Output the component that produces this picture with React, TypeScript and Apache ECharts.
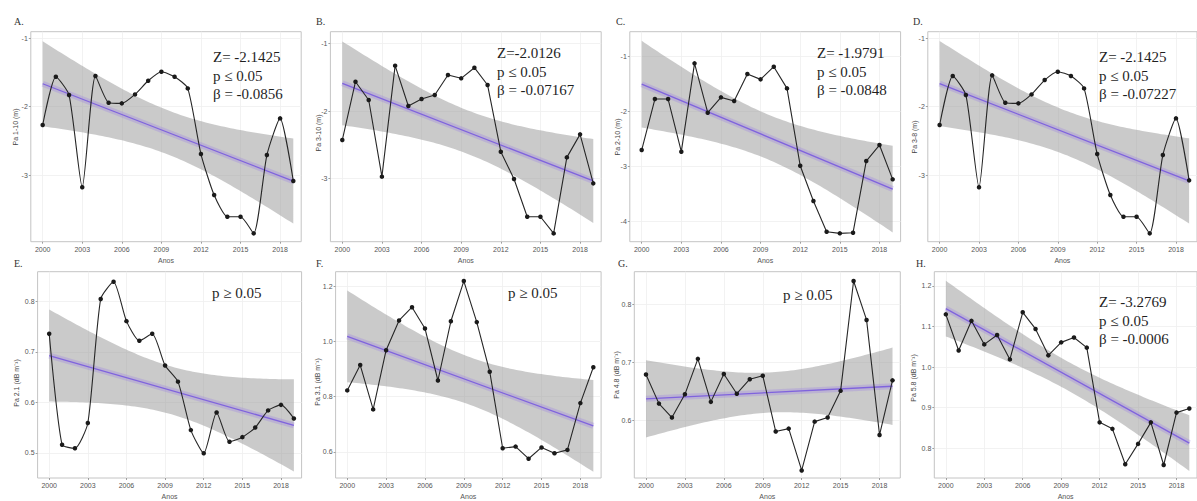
import React, { useEffect, useRef } from "react";
import * as echarts from "echarts";

// Years of the series (shared by all panels)
const years = [2000, 2001, 2002, 2003, 2004, 2005, 2006, 2007, 2008, 2009, 2010, 2011, 2012, 2013, 2014, 2015, 2016, 2017, 2018, 2019];
const yearTicks = [2000, 2003, 2006, 2009, 2012, 2015, 2018];

// Annual values per panel
const valuesA = [-2.268, -1.561, -1.829, -3.18, -1.551, -1.941, -1.951, -1.82, -1.62, -1.488, -1.561, -1.732, -2.693, -3.293, -3.61, -3.61, -3.854, -2.707, -2.171, -3.088];
const valuesB = [-2.429, -1.567, -1.837, -2.97, -1.33, -1.926, -1.823, -1.764, -1.468, -1.517, -1.36, -1.616, -2.601, -3.005, -3.562, -3.562, -3.808, -2.685, -2.345, -3.069];
const valuesC = [-2.697, -1.77, -1.77, -2.727, -1.121, -2.018, -1.739, -1.806, -1.315, -1.412, -1.182, -1.576, -2.982, -3.624, -4.182, -4.212, -4.2, -2.897, -2.606, -3.23];
const valuesD = [-2.268, -1.551, -1.829, -3.18, -1.541, -1.941, -1.951, -1.82, -1.61, -1.488, -1.551, -1.732, -2.693, -3.293, -3.61, -3.61, -3.854, -2.707, -2.171, -3.078];
const valuesE = [0.736, 0.516, 0.509, 0.559, 0.805, 0.839, 0.761, 0.722, 0.736, 0.673, 0.641, 0.545, 0.499, 0.58, 0.522, 0.531, 0.55, 0.584, 0.595, 0.568];
const valuesF = [0.823, 0.915, 0.754, 0.969, 1.077, 1.125, 1.048, 0.859, 1.074, 1.22, 1.071, 0.891, 0.613, 0.619, 0.575, 0.616, 0.595, 0.607, 0.777, 0.907];
const valuesG = [0.679, 0.629, 0.605, 0.645, 0.706, 0.632, 0.68, 0.646, 0.671, 0.677, 0.581, 0.586, 0.514, 0.598, 0.605, 0.651, 0.84, 0.773, 0.575, 0.669];
const valuesH = [1.13, 1.041, 1.114, 1.056, 1.079, 1.019, 1.135, 1.094, 1.029, 1.061, 1.073, 1.048, 0.864, 0.848, 0.761, 0.811, 0.864, 0.759, 0.888, 0.898];

// Y tick labels
const ticksA = [-3, -2, -1];
const ticksB = [-3, -2, -1];
const ticksC = [-4, -3, -2, -1];
const ticksD = [-3, -2, -1];
const ticksE = [0.5, 0.6, 0.7, 0.8];
const ticksF = [0.6, 0.8, 1.0, 1.2];
const ticksG = [0.5, 0.6, 0.7, 0.8];
const ticksH = [0.8, 0.9, 1.0, 1.1, 1.2];

// Trend test annotations
const statsA = ["Z= -2.1425", "p ≤ 0.05", "β = -0.0856"];
const statsB = ["Z=-2.0126", "p ≤ 0.05", "β = -0.07167"];
const statsC = ["Z= -1.9791", "p ≤ 0.05", "β = -0.0848"];
const statsD = ["Z= -2.1425", "p ≤ 0.05", "β = -0.07227"];
const statsE = ["p ≥ 0.05"];
const statsF = ["p ≥ 0.05"];
const statsG = ["p ≥ 0.05"];
const statsH = ["Z= -3.2769", "p ≤ 0.05", "β = -0.0006"];

const letters = ["A.", "B.", "C.", "D.", "E.", "F.", "G.", "H."];
const yTitles = [
  "Pa 1-10 (m)",
  "Pa 3-10 (m)",
  "Pa 2-10 (m)",
  "Pa 3-8 (m)",
  "Pa 2.1 (dB m⁻¹)",
  "Pa 3.1 (dB m⁻¹)",
  "Pa 4.8 (dB m⁻¹)",
  "Pa 5.8 (dB m⁻¹)",
];

// Panel geometry (pixels) and value ranges
const X_MIN = 1999.1;
const X_MAX = 2019.6;
const layouts = [
  { left: 30.8, top: 31.7, width: 270.4, height: 210, yMin: -3.976, yMax: -0.902, smooth: 0.2, letter: [14, 21], stats: [213, 57], title: [15, 127] },
  { left: 330.4, top: 31.7, width: 270.8, height: 210, yMin: -3.931, yMax: -0.828, smooth: 0, letter: [316, 21], stats: [497, 53], title: [318, 133] },
  { left: 629.8, top: 31.7, width: 270.8, height: 210, yMin: -4.364, yMax: -0.545, smooth: 0, letter: [616, 21], stats: [817, 53], title: [617, 137] },
  { left: 927.8, top: 31.7, width: 270.4, height: 210, yMin: -3.976, yMax: -0.902, smooth: 0.2, letter: [913, 21], stats: [1099, 57], title: [914, 137] },
  { left: 37.6, top: 271.7, width: 264, height: 208.3, yMin: 0.45, yMax: 0.859, smooth: 0.2, letter: [14, 263], stats: [212, 293], title: [16, 383] },
  { left: 335.6, top: 271.7, width: 265.5, height: 208.3, yMin: 0.505, yMax: 1.254, smooth: 0, letter: [316, 263], stats: [508, 293], title: [317, 382] },
  { left: 634.3, top: 271.7, width: 266, height: 208.3, yMin: 0.501, yMax: 0.856, smooth: 0, letter: [618, 263], stats: [783, 295], title: [616, 375] },
  { left: 934.3, top: 271.7, width: 266.5, height: 208.3, yMin: 0.727, yMax: 1.235, smooth: 0, letter: [916, 263], stats: [1099, 302], title: [913, 378] },
];

const panelValues = [valuesA, valuesB, valuesC, valuesD, valuesE, valuesF, valuesG, valuesH];
const panelTicks = [ticksA, ticksB, ticksC, ticksD, ticksE, ticksF, ticksG, ticksH];
const panelStats = [statsA, statsB, statsC, statsD, statsE, statsF, statsG, statsH];

// Ordinary least squares fit with a 95% confidence band for the mean
function linearFit(xs: number[], ys: number[]) {
  const n = xs.length;
  const mx = xs.reduce((s, v) => s + v, 0) / n;
  const my = ys.reduce((s, v) => s + v, 0) / n;
  let sxx = 0;
  let sxy = 0;
  for (let i = 0; i < n; i++) {
    sxx += (xs[i] - mx) ** 2;
    sxy += (xs[i] - mx) * (ys[i] - my);
  }
  const b = sxy / sxx;
  const a = my - b * mx;
  let sse = 0;
  for (let i = 0; i < n; i++) sse += (ys[i] - (a + b * xs[i])) ** 2;
  const s = Math.sqrt(sse / (n - 2));
  const t = 2.100922; // t(0.975, 18)
  const x0 = xs[0];
  const x1 = xs[n - 1];
  const upper: number[][] = [];
  const lower: number[][] = [];
  const steps = 80;
  for (let k = 0; k <= steps; k++) {
    const x = x0 + ((x1 - x0) * k) / steps;
    const yhat = a + b * x;
    const se = s * Math.sqrt(1 / n + (x - mx) ** 2 / sxx);
    upper.push([x, yhat + t * se]);
    lower.push([x, yhat - t * se]);
  }
  return {
    line: [
      [x0, a + b * x0],
      [x1, a + b * x1],
    ],
    upper,
    lower,
  };
}

const SERIF = "'Liberation Serif', 'DejaVu Serif', serif";
const SANS = "'Liberation Sans', Arial, sans-serif";

function buildOption() {
  const grid: any[] = [];
  const xAxis: any[] = [];
  const yAxis: any[] = [];
  const series: any[] = [];
  const graphic: any[] = [];

  layouts.forEach((lay, i) => {
    const values = panelValues[i];
    const ticks = panelTicks[i];
    const fit = linearFit(years, values);
    const decimals = ticks.some((v) => !Number.isInteger(v));

    grid.push({
      left: lay.left,
      top: lay.top,
      width: lay.width,
      height: lay.height,
      show: true,
      backgroundColor: "#ffffff",
      borderColor: "#c4c4c4",
      borderWidth: 1,
      containLabel: false,
    });

    xAxis.push({
      type: "value",
      gridIndex: i,
      min: X_MIN,
      max: X_MAX,
      name: "Anos",
      nameLocation: "middle",
      nameGap: 15,
      nameTextStyle: { fontFamily: SANS, fontSize: 7, color: "#555" },
      axisLine: { show: false },
      axisTick: { show: true, length: 2, customValues: yearTicks, lineStyle: { color: "#888", width: 0.8 } },
      axisLabel: {
        customValues: yearTicks,
        formatter: (v: number) => String(Math.round(v)),
        fontFamily: SANS,
        fontSize: 7,
        color: "#555",
        margin: 4,
      },
      splitLine: { show: true, lineStyle: { color: "#efefef", width: 0.8 } },
    });

    yAxis.push({
      type: "value",
      gridIndex: i,
      min: lay.yMin,
      max: lay.yMax,
      axisLine: { show: false },
      axisTick: { show: true, length: 2, customValues: ticks, lineStyle: { color: "#888", width: 0.8 } },
      axisLabel: {
        customValues: ticks,
        formatter: (v: number) => (decimals ? v.toFixed(1) : String(Math.round(v))),
        fontFamily: SANS,
        fontSize: 7,
        color: "#555",
        margin: 3,
      },
      splitLine: { show: true, lineStyle: { color: "#efefef", width: 0.8 } },
    });

    // confidence band
    series.push({
      type: "custom",
      xAxisIndex: i,
      yAxisIndex: i,
      silent: true,
      data: [fit.line[0]],
      z: 1,
      renderItem: (_params: any, api: any) => {
        const pts = fit.upper.map((p) => api.coord(p)).concat(
          fit.lower
            .slice()
            .reverse()
            .map((p) => api.coord(p))
        );
        return {
          type: "polygon",
          shape: { points: pts },
          style: { fill: "rgba(150,150,150,0.5)", stroke: "none" },
        };
      },
    });

    // regression line with a soft halo
    series.push({
      type: "line",
      xAxisIndex: i,
      yAxisIndex: i,
      data: fit.line,
      symbol: "none",
      silent: true,
      z: 2,
      lineStyle: { color: "rgba(150,120,235,0.28)", width: 6 },
    });
    series.push({
      type: "line",
      xAxisIndex: i,
      yAxisIndex: i,
      data: fit.line,
      symbol: "none",
      silent: true,
      z: 3,
      lineStyle: { color: "#7f63dd", width: 1.3 },
    });

    // observed series
    series.push({
      type: "line",
      xAxisIndex: i,
      yAxisIndex: i,
      data: years.map((y, k) => [y, values[k]]),
      smooth: lay.smooth || false,
      symbol: "circle",
      symbolSize: 4.5,
      z: 4,
      itemStyle: { color: "#1a1a1a" },
      lineStyle: { color: "#262626", width: 1.1 },
    });

    graphic.push({
      type: "text",
      x: lay.letter[0],
      y: lay.letter[1],
      style: { text: letters[i], fill: "#333", font: `10px ${SERIF}`, align: "left", verticalAlign: "middle" },
    });

    panelStats[i].forEach((line, k) => {
      graphic.push({
        type: "text",
        x: lay.stats[0],
        y: lay.stats[1] + k * 18.5,
        z: 10,
        style: { text: line, fill: "#1f1f1f", font: `15px ${SERIF}`, align: "left", verticalAlign: "middle" },
      });
    });

    graphic.push({
      type: "text",
      x: lay.title[0],
      y: lay.title[1],
      rotation: Math.PI / 2,
      style: { text: yTitles[i], fill: "#444", font: `7px ${SANS}`, align: "center", verticalAlign: "middle" },
    });
  });

  return {
    animation: false,
    backgroundColor: "#ffffff",
    grid,
    xAxis,
    yAxis,
    series,
    graphic,
  };
}

export default function App() {
  const ref = useRef<HTMLDivElement>(null);

  useEffect(() => {
    document.body.style.margin = "0";
    if (!ref.current) return;
    const chart = echarts.init(ref.current, undefined, { renderer: "svg" });
    chart.setOption(buildOption());
    return () => {
      chart.dispose();
    };
  }, []);

  return <div ref={ref} style={{ width: 1197, height: 501 }} />;
}
